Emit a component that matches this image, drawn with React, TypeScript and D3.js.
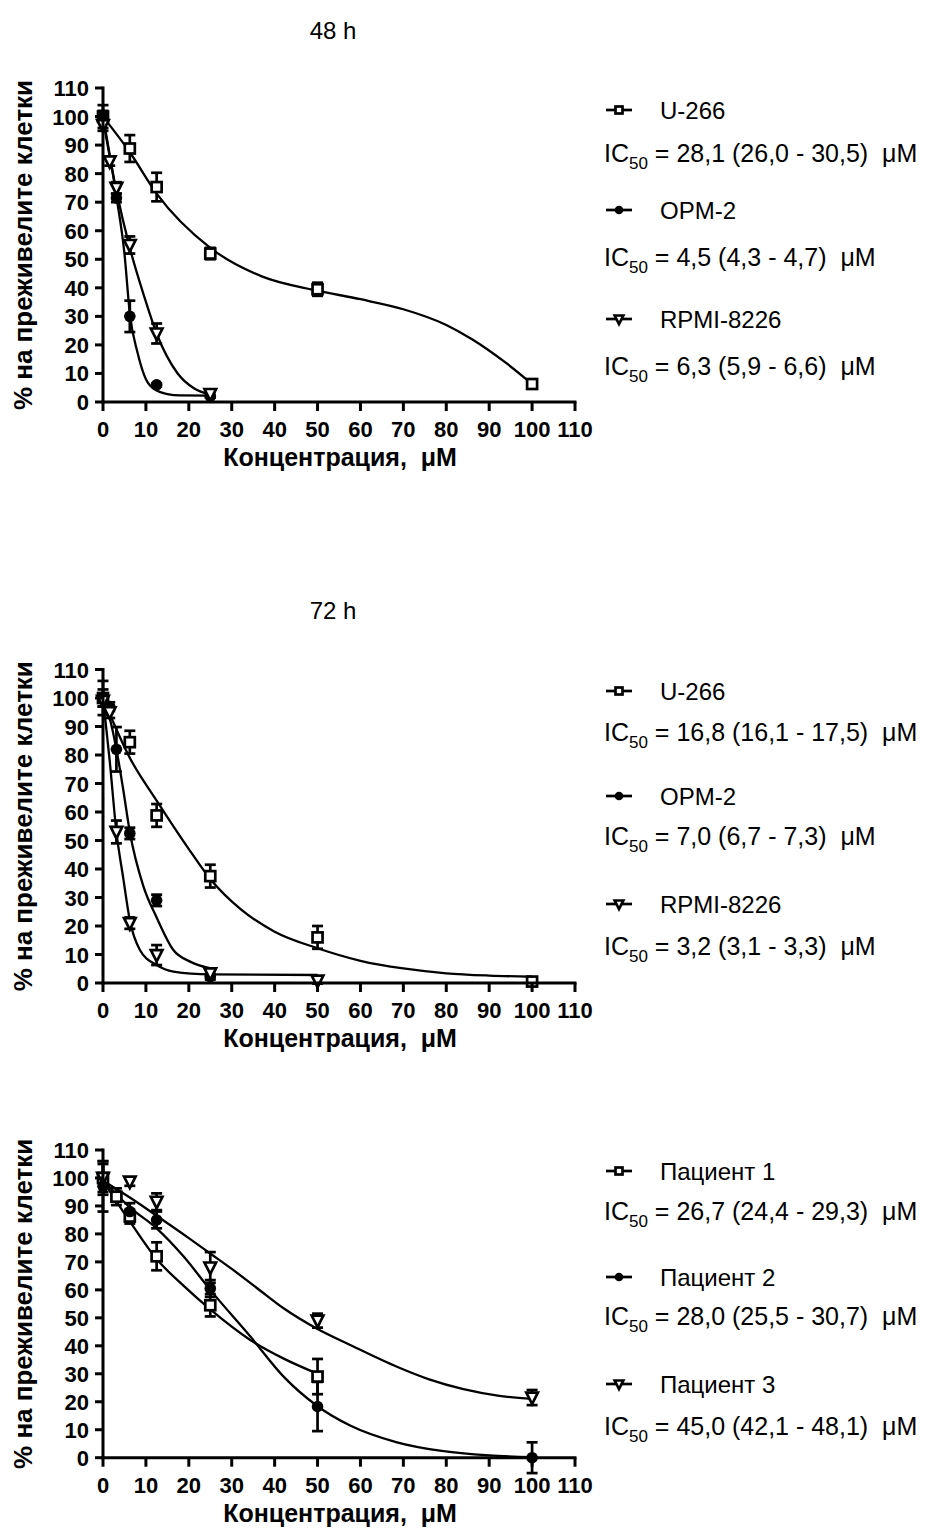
import React from 'react'
import * as d3 from 'd3'

const FONT = 'Arial, "Liberation Sans", Helvetica, sans-serif'

// ---- 48 h : [concentration µM, mean %, error]
const u266_48 = [[0, 100, 4], [6.25, 88.8, 4.7], [12.5, 75.3, 5], [25, 52, 2], [50, 39.5, 2.3], [100, 6.3, 1]]
const opm2_48 = [[0, 100, 2], [3.125, 71.5, 1.5], [6.25, 30, 5.5], [12.5, 6, 0.5], [25, 2, 0.5]]
const rpmi_48 = [[0, 97, 2], [1.5625, 84.3, 1.5], [3.125, 75, 2], [6.25, 55, 3], [12.5, 24, 3.5], [25, 2.8, 1]]
const u266_48_fit = [[0, 100], [6.25, 87.5], [12.5, 73], [25, 54], [37, 44], [50, 39], [60, 36], [70, 32.5], [80, 27], [86, 22], [94, 13.6], [100, 6.3]]
const opm2_48_fit = [[0, 100], [3.125, 72], [5, 52], [6.25, 31], [8.1, 17], [10, 8], [12.5, 4], [15, 2.8], [18, 2.3], [25, 2.2]]
const rpmi_48_fit = [[0, 99], [1.5625, 86], [3.125, 74], [6.25, 54], [9.6, 37], [12.5, 24], [17.4, 10], [21.2, 4.8], [25, 2.6]]

// ---- 72 h
const u266_72 = [[0, 100, 6], [6.25, 84.5, 4], [12.5, 58.8, 4], [25, 37.5, 4], [50, 16, 4], [100, 0.5, 1.5]]
const opm2_72 = [[0, 100, 3], [1.5625, 97, 1.5], [3.125, 82, 7.8], [6.25, 52.5, 2], [12.5, 29, 2], [25, 2.2, 1]]
const rpmi_72 = [[0, 99, 2], [1.5625, 95, 2], [3.125, 53, 4], [6.25, 21, 2], [12.5, 9.8, 3.5], [25, 3.4, 1], [50, 0.8, 1]]
const u266_72_fit = [[0, 100], [6.25, 79], [12.5, 64], [20, 47], [25, 36.5], [32, 26], [40, 18], [50, 12.2], [60, 7.8], [70, 5.1], [80, 3.4], [90, 2.6], [100, 2.2]]
const opm2_72_fit = [[0, 100], [1.5625, 93], [3.125, 82], [4.7, 68], [6.25, 53], [9.4, 34], [12.5, 23], [16.4, 11.6], [20.3, 7.5], [25, 5.1]]
const rpmi_72_fit = [[0, 100], [1.5625, 78], [3.125, 53], [4.7, 37], [6.25, 22], [8.6, 11.6], [12.5, 6.3], [16.4, 4], [25, 3], [50, 2.8]]

// ---- patients
const pat1 = [[0, 100, 6], [3.125, 93.3, 3], [6.25, 86.2, 2.5], [12.5, 72, 5], [25, 54.5, 4], [50, 29, 6.3]]
const pat2 = [[0, 97, 9], [6.25, 88, 3], [12.5, 85, 3], [25, 60.5, 3], [50, 18.3, 8.8], [100, 0, 5.5]]
const pat3 = [[0, 100, 5], [6.25, 98.7, 1.5], [12.5, 91.5, 3], [25, 68, 5.5], [50, 49, 2.5], [100, 21.5, 2.7]]
const pat1_fit = [[0, 99], [6.25, 84.5], [12.5, 71], [18.75, 61.5], [25, 53], [34.4, 42], [42, 35.5], [50, 30]]
const pat2_fit = [[0, 99], [6.25, 89.5], [12.5, 82], [18.75, 72], [25, 60], [34.4, 43.2], [42.2, 28.8], [50, 18.4], [57.6, 11.5], [68.5, 5.5], [78.5, 2.5], [90, 0.8], [100, 0.2]]
const pat3_fit = [[0, 99], [6.25, 93], [12.5, 86.5], [20, 78.5], [25, 73], [30, 67.5], [36, 60.5], [42, 53.5], [50, 46], [57.6, 40.3], [68.5, 32.5], [76, 28], [84, 24.5], [92, 22.2], [100, 21]]

const xTicks = d3.range(0, 111, 10)
const yTicks = d3.range(0, 111, 10)

const panels = [
  {
    title: '48 h', titleY: 39, top: 88, bottom: 402,
    series: [
      { name: 'U-266', marker: 'square', data: u266_48, fit: u266_48_fit, ic: '28,1 (26,0 - 30,5)', ly: 110, iy: 153 },
      { name: 'OPM-2', marker: 'circle', data: opm2_48, fit: opm2_48_fit, ic: '4,5 (4,3 - 4,7)', ly: 210, iy: 257 },
      { name: 'RPMI-8226', marker: 'triangle', data: rpmi_48, fit: rpmi_48_fit, ic: '6,3 (5,9 - 6,6)', ly: 319, iy: 366 },
    ],
  },
  {
    title: '72 h', titleY: 619, top: 669.5, bottom: 983,
    series: [
      { name: 'U-266', marker: 'square', data: u266_72, fit: u266_72_fit, ic: '16,8 (16,1 - 17,5)', ly: 691, iy: 732 },
      { name: 'OPM-2', marker: 'circle', data: opm2_72, fit: opm2_72_fit, ic: '7,0 (6,7 - 7,3)', ly: 796, iy: 836 },
      { name: 'RPMI-8226', marker: 'triangle', data: rpmi_72, fit: rpmi_72_fit, ic: '3,2 (3,1 - 3,3)', ly: 904, iy: 946 },
    ],
  },
  {
    title: '', titleY: 0, top: 1150, bottom: 1457.7,
    series: [
      { name: 'Пациент 1', marker: 'square', data: pat1, fit: pat1_fit, ic: '26,7 (24,4 - 29,3)', ly: 1171, iy: 1211 },
      { name: 'Пациент 2', marker: 'circle', data: pat2, fit: pat2_fit, ic: '28,0 (25,5 - 30,7)', ly: 1277, iy: 1316 },
      { name: 'Пациент 3', marker: 'triangle', data: pat3, fit: pat3_fit, ic: '45,0 (42,1 - 48,1)', ly: 1384, iy: 1426 },
    ],
  },
]

const Marker = ({ type, cx, cy, s }) => {
  if (type === 'square')
    return <rect x={cx - s / 2} y={cy - s / 2} width={s} height={s} fill="#fff" stroke="#000" strokeWidth={2.7} />
  if (type === 'circle') return <circle cx={cx} cy={cy} r={s / 2 + 0.8} fill="#000" />
  return (
    <path
      d={`M${cx - s / 2 - 0.8},${cy - s / 2}L${cx + s / 2 + 0.8},${cy - s / 2}L${cx},${cy + s / 2 + 1.5}Z`}
      fill="#fff" stroke="#000" strokeWidth={2.7} strokeLinejoin="miter"
    />
  )
}

const Panel = ({ p }) => {
  const x = d3.scaleLinear().domain([0, 110]).range([103, 575])
  const y = d3.scaleLinear().domain([0, 110]).range([p.bottom, p.top])
  const line = d3.line().x(d => x(d[0])).y(d => y(d[1])).curve(d3.curveMonotoneX)
  const midY = (p.top + p.bottom) / 2

  return (
    <g>
      {p.title && (
        <text x={333} y={p.titleY} textAnchor="middle" fontSize={24}>{p.title}</text>
      )}

      {/* fitted curves */}
      {p.series.map(s => (
        <path key={s.name + 'f'} d={line(s.fit)} fill="none" stroke="#000" strokeWidth={2.3} />
      ))}

      {/* error bars */}
      {p.series.map(s => s.data.map((d, i) => {
        const cx = x(d[0]), y1 = y(d[1] + d[2]), y2 = y(d[1] - d[2])
        return (
          <g key={s.name + 'e' + i} stroke="#000" strokeWidth={2.7}>
            <line x1={cx} x2={cx} y1={y1} y2={y2} />
            <line x1={cx - 5.5} x2={cx + 5.5} y1={y1} y2={y1} />
            <line x1={cx - 5.5} x2={cx + 5.5} y1={y2} y2={y2} />
          </g>
        )
      }))}

      {/* markers */}
      {p.series.map(s => s.data.map((d, i) => (
        <Marker key={s.name + 'm' + i} type={s.marker} cx={x(d[0])} cy={y(d[1])} s={10} />
      )))}

      {/* axes */}
      <g stroke="#000" strokeWidth={3}>
        <line x1={x(0)} x2={x(0)} y1={y(110) - 1.5} y2={y(0) + 1.5} />
        <line x1={x(0) - 1.5} x2={x(110) + 1.5} y1={y(0)} y2={y(0)} />
        {yTicks.map(t => <line key={'yt' + t} x1={x(0) - 8} x2={x(0)} y1={y(t)} y2={y(t)} />)}
        {xTicks.map(t => <line key={'xt' + t} x1={x(t)} x2={x(t)} y1={y(0)} y2={y(0) + 9} />)}
      </g>
      <g fontWeight="bold">
        {yTicks.map(t => (
          <text key={'yl' + t} x={x(0) - 14} y={y(t) + 8} textAnchor="end" fontSize={22}>{t}</text>
        ))}
        {xTicks.map(t => (
          <text key={'xl' + t} x={x(t)} y={y(0) + 35} textAnchor="middle" fontSize={22}>{t}</text>
        ))}
        <text x={340} y={y(0) + 64} textAnchor="middle" fontSize={25}>{'Концентрация,\u00a0 μM'}</text>
        <text transform={`translate(32,${midY}) rotate(-90)`} textAnchor="middle" fontSize={26}>% на преживелите клетки</text>
      </g>

      {/* legend */}
      <g fontSize={24}>
        {p.series.map(s => (
          <g key={s.name + 'l'}>
            <line x1={606} x2={632} y1={s.ly} y2={s.ly} stroke="#000" strokeWidth={2.7} />
            <Marker type={s.marker} cx={619} cy={s.ly} s={7} />
            <text x={660} y={s.ly + 8.5}>{s.name}</text>
            <text x={604} y={s.iy + 9} fontSize={25}>
              IC<tspan fontSize={17} dy={7}>50</tspan>
              <tspan dy={-7}>{' = ' + s.ic + '\u00a0\u00a0μM'}</tspan>
            </text>
          </g>
        ))}
      </g>
    </g>
  )
}

export default function App() {
  return (
    <svg
      width={939}
      height={1533}
      style={{ position: 'absolute', left: 0, top: 0, background: '#fff' }}
      fontFamily={FONT}
    >
      <rect width={939} height={1533} fill="#fff" />
      {panels.map((p, i) => <Panel key={i} p={p} />)}
    </svg>
  )
}
